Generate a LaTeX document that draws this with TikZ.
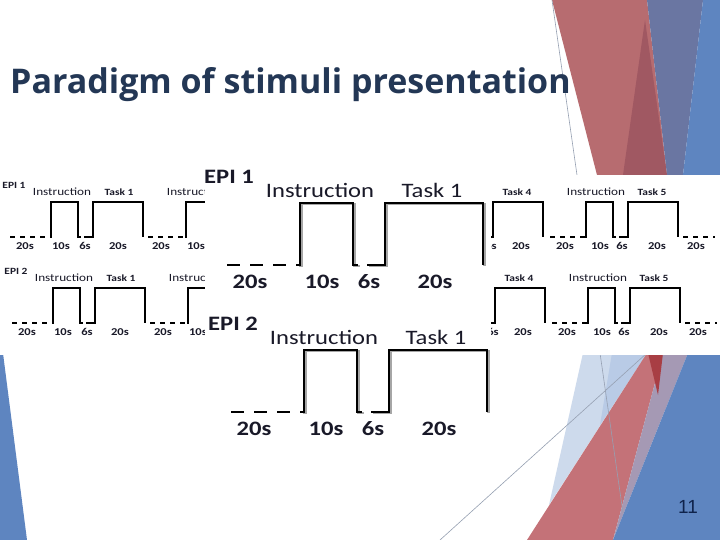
\documentclass[tikz,border=0pt]{standalone}
\usepackage{fontspec}
\setmainfont{Carlito}
\newfontfamily\titlefont{Open Sans}
\newfontfamily\diagfont[FakeStretch=1.2]{Carlito}
\newfontfamily\numfont{Liberation Sans}

\definecolor{titleblue}{RGB}{35,55,85}
\definecolor{inkdark}{RGB}{25,25,40}
\definecolor{redlight}{RGB}{183,108,112}
\definecolor{reddark}{RGB}{160,88,98}
\definecolor{redsoft}{RGB}{196,114,120}
\definecolor{reddeep}{RGB}{168,62,68}
\definecolor{bluegrey}{RGB}{106,118,162}
\definecolor{bluemain}{RGB}{94,133,192}
\definecolor{bluepale}{RGB}{205,218,236}
\definecolor{bluesoft}{RGB}{185,203,230}
\definecolor{mauve}{RGB}{165,153,180}
\definecolor{thinline}{RGB}{150,160,178}

\begin{document}
\begin{tikzpicture}[x=1pt, y=-1pt,
  smallwave/.style={line width=1.6pt, black},
  smallrest/.style={smallwave, dash pattern=on 5pt off 5pt},
  bigwave/.style={line width=2.8pt, black, preaction={draw=black!35, line width=2.8pt, transform canvas={shift={(1.5pt,-1pt)}}}},
  bigrest/.style={line width=2.8pt, black, dash pattern=on 13pt off 10pt},
  smalltxt/.style={font=\diagfont\fontsize{11}{13}\selectfont, text=inkdark, inner sep=0pt},
  smallbold/.style={font=\diagfont\bfseries\fontsize{9.5}{11}\selectfont, text=inkdark, inner sep=0pt},
  smallsec/.style={font=\diagfont\bfseries\fontsize{10.5}{12}\selectfont, text=inkdark, inner sep=0pt},
  bigtxt/.style={font=\diagfont\fontsize{20.5}{24}\selectfont, text=inkdark, inner sep=0pt},
  bigbold/.style={font=\diagfont\bfseries\fontsize{20.5}{24}\selectfont, text=inkdark, inner sep=0pt}]

\useasboundingbox[fill=white] (0,0) rectangle (720,540);

% Slide decoration, top right
\fill[redlight] (552,0) -- (647,0) -- (667,175) -- (597,175) -- cycle;
\fill[reddark] (645,20) -- (667,175) -- (623,175) -- cycle;
\fill[bluegrey] (647,0) -- (703,0) -- (683,175) -- (667,175) -- cycle;
\fill[bluemain] (703,0) -- (720,0) -- (720,175) -- (683,175) -- cycle;
\draw[thinline, line width=0.6pt] (552,0) -- (577,175);

% Slide decoration, bottom right
\fill[bluepale] (583,353) -- (647,353) -- (549,505) -- cycle;
\fill[bluesoft] (612,353) -- (647,353) -- (600,425) -- cycle;
\fill[redsoft] (647,353) -- (663,353) -- (613,540) -- (527,540) -- cycle;
\fill[mauve] (663,353) -- (688,353) -- (613,540) -- cycle;
\fill[reddeep] (648,353) -- (663,353) -- (658,395) -- cycle;
\fill[bluemain] (688,353) -- (720,353) -- (720,540) -- (613,540) -- cycle;
\draw[thinline, line width=0.6pt] (440,540) -- (647,353);
\draw[thinline, line width=0.6pt] (600,353) -- (623,513);

% Slide decoration, bottom left
\fill[bluemain] (0,330) -- (27,540) -- (0,540) -- cycle;

% Wide picture with both runs
\fill[white] (0,175) rectangle (720,355);

\foreach \n/\dy in {1/0, 2/86}{
  \begin{scope}[shift={(2*\n-2,\dy)}]
    \node[smallbold] (epi\n) at (14,185) {EPI \n};
    % first block
    \draw[smallrest] (10,237) -- (50,237); % rest
    \draw[smallwave] (50,237) -- (51,237) -- (51,202) -- (78,202) -- (78,237) -- (81,237); % instruction
    \draw[smallwave] (84,237) -- (93,237) -- (93,202) -- (143,202) -- (143,237); % task 1
    \draw[smallrest] (148,237) -- (185,237); % rest
    \draw[smallwave] (185,237) -- (186,237) -- (186,202) -- (215,202); % next instruction
    % last blocks
    \draw[smallwave] (486,237) -- (493,237) -- (493,202) -- (543,202) -- (543,237); % task 4
    \draw[smallrest] (550,237) -- (584,237); % rest
    \draw[smallwave] (584,237) -- (586,237) -- (586,202) -- (613,202) -- (613,237) -- (616,237); % instruction
    \draw[smallwave] (619,237) -- (628,237) -- (628,202) -- (678,202) -- (678,237); % task 5
    \draw[smallrest] (683,237) -- (715,237); % rest
    % labels above
    \node[smalltxt] (instrA\n) at (62,192) {Instruction};
    \node[smallbold] (taskA\n) at (119,192) {Task 1};
    \node[smalltxt] (instrB\n) at (196,192) {Instruction};
    \node[smallbold] (taskD\n) at (517,192) {Task 4};
    \node[smalltxt] (instrE\n) at (596,192) {Instruction};
    \node[smallbold] (taskE\n) at (652,192) {Task 5};
    % durations below
    \foreach \x/\t [count=\i] in {25/20s, 61/10s, 85/6s, 118/20s, 161/20s, 196/10s,
                                  491/6s, 521/20s, 565/20s, 600/10s, 622/6s, 657/20s, 696/20s}
      \node[smallsec] (sec\n-\i) at (\x,246) {\t};
  \end{scope}
}

% Enlarged part
\fill[white] (205,160) rectangle (491,445);

\foreach \n/\dx/\dy in {1/0/0, 2/4/147}{
  \begin{scope}[shift={(\dx,\dy)}]
    \node[bigbold] (bigepi\n) at (229,177) {EPI \n};
    \node[bigtxt] (biginstr\n) at (320,190) {Instruction};
    \node[bigtxt] (bigtask\n) at (432,190) {Task 1};
    \draw[bigrest] (227,265) -- (297,265); % rest
    \draw[bigwave] (297,265) -- (300,265) -- (300,203) -- (353,203) -- (353,265) -- (358,265); % instruction
    \draw[bigwave] (367,265) -- (385,265) -- (385,203) -- (483,203) -- (483,265); % task 1
    \node[bigbold] (bigrest\n) at (250,282) {20s};
    \node[bigbold] (biginst\n) at (322,282) {10s};
    \node[bigbold] (biggap\n) at (369,282) {6s};
    \node[bigbold] (bigtsk\n) at (435,282) {20s};
  \end{scope}
}

% Title and page number
\node[anchor=base west, inner sep=0pt, text=titleblue, font=\titlefont\bfseries\fontsize{34}{40}\selectfont] (title) at (10,94) {Paradigm of stimuli presentation};
\node[inner sep=0pt, text={rgb,255:red,15;green,35;blue,75}, font=\numfont\fontsize{19}{22}\selectfont] (pagenum) at (688,507) {11};

\end{tikzpicture}
\end{document}
